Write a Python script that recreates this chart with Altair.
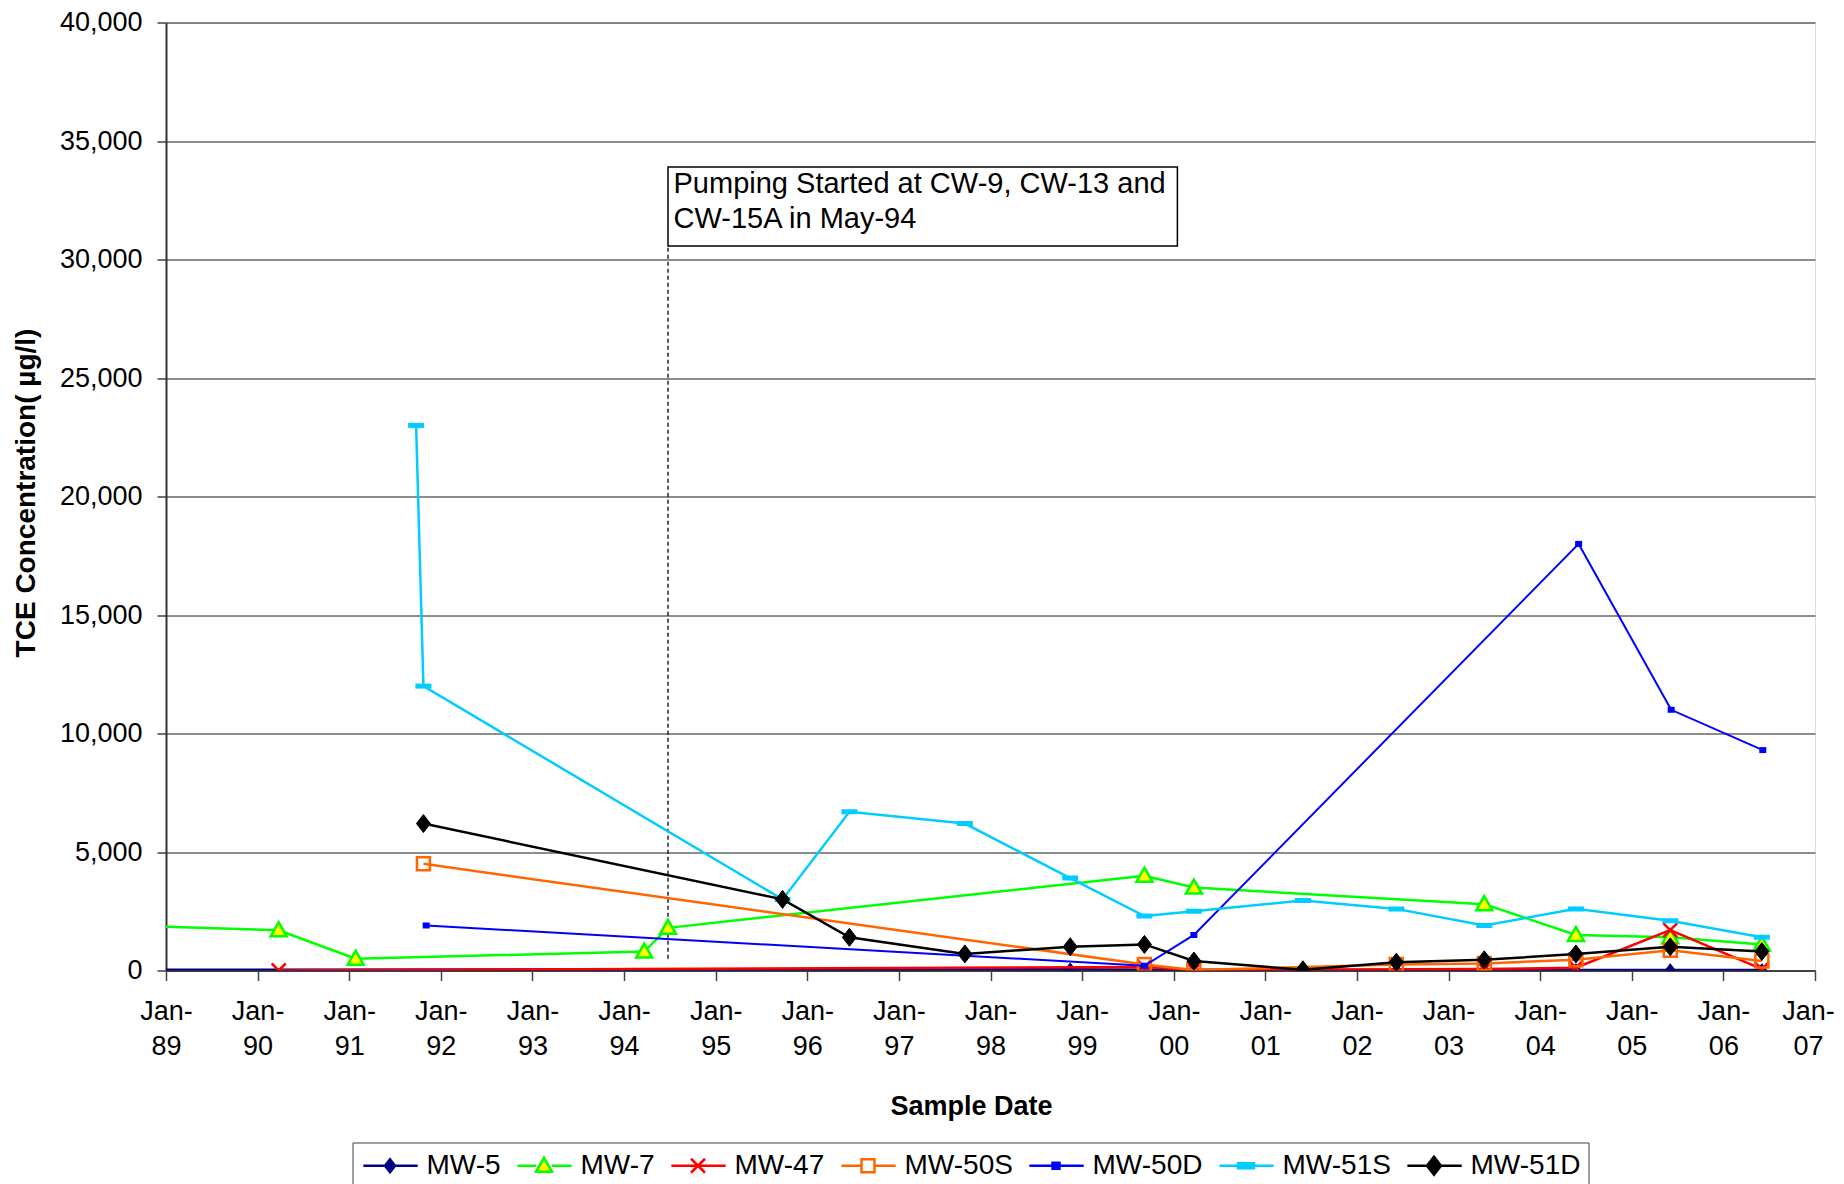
import altair as alt
import pandas as pd

# ---------------- data (decimal years, TCE in ug/l) ----------------
names = ["MW-5", "MW-7", "MW-47", "MW-50S", "MW-50D", "MW-51S", "MW-51D"]

mw5_x = [1988.5, 1998.87, 1999.68, 2001.41, 2002.43, 2003.39, 2004.39, 2005.42, 2006.42]
mw5_y = [20, 40, 20, 10, 10, 10, 10, 10, 10]

mw7_x = [1988.5, 1990.23, 1991.07, 1994.22, 1994.48, 1999.68, 2000.22, 2003.39, 2004.39, 2005.42, 2006.42]
mw7_y = [1900, 1700, 500, 800, 1800, 4000, 3500, 2800, 1500, 1400, 1100]

mw47_x = [1990.23, 1999.68, 2000.22, 2003.39, 2004.39, 2005.42, 2006.42]
mw47_y = [0, 150, 20, 60, 120, 1700, 60]

mw50s_x = [1991.81, 1999.68, 2000.22, 2002.43, 2003.39, 2004.39, 2005.42, 2006.42]
mw50s_y = [4500, 250, 20, 250, 300, 450, 850, 400]

mw50d_x = [1991.84, 1999.68, 2000.22, 2004.42, 2005.43, 2006.43]
mw50d_y = [1900, 200, 1500, 18000, 11000, 9300]

mw51s_x = [1991.73, 1991.81, 1995.73, 1996.46, 1997.72, 1998.87, 1999.68, 2000.22, 2001.41,
           2002.43, 2003.39, 2004.39, 2005.42, 2006.42]
mw51s_y = [23000, 12000, 3000, 6700, 6200, 3900, 2300, 2500, 2950, 2600, 1900, 2600, 2100, 1400]

mw51d_x = [1991.81, 1995.73, 1996.46, 1997.72, 1998.87, 1999.68, 2000.22, 2001.41, 2002.43,
           2003.39, 2004.39, 2005.42, 2006.42]
mw51d_y = [6200, 3000, 1400, 700, 1000, 1100, 400, 30, 350, 450, 700, 1000, 800]

series_x = [mw5_x, mw7_x, mw47_x, mw50s_x, mw50d_x, mw51s_x, mw51d_x]
series_y = [mw5_y, mw7_y, mw47_y, mw50s_y, mw50d_y, mw51s_y, mw51d_y]

year_ticks = list(range(1989, 2008))
value_ticks = list(range(0, 40001, 5000))

note_text = "Pumping Started at CW-9, CW-13 and\nCW-15A in May-94"
pump_year = 1994.48

# ---------------- styles ----------------
FONT = "Liberation Sans"

diamond_small = [([(0, -6.5), (5, 0), (0, 6.5), (-5, 0)], True)]
triangle = [([(0, -8), (8, 6), (-8, 6)], True)]
xmark = [([(-7, -7), (7, 7)], False), ([(-7, 7), (7, -7)], False)]
square = [([(-6.5, -6.5), (6.5, -6.5), (6.5, 6.5), (-6.5, 6.5)], True)]
small_square = [([(-3.5, -3), (3.5, -3), (3.5, 3), (-3.5, 3)], True)]
dash = [([(-8, -2.5), (8, -2.5), (8, 2.5), (-8, 2.5)], True)]
diamond = [([(0, -9), (7, 0), (0, 9), (-7, 0)], True)]

styles = [
    dict(color="#000080", fill="#000080", marker=diamond_small, sw=1, lw=3, hw=0),
    dict(color="#00FF00", fill="#FFFF00", marker=triangle, sw=2.5, lw=2.5, hw=8),
    dict(color="#FF0000", fill="transparent", marker=xmark, sw=2.5, lw=2.5, hw=0),
    dict(color="#FF6600", fill="transparent", marker=square, sw=2.5, lw=2.5, hw=6.5),
    dict(color="#0000FF", fill="#0000FF", marker=small_square, sw=0, lw=2, hw=0),
    dict(color="#00CCFF", fill="#00CCFF", marker=dash, sw=0, lw=2.5, hw=0),
    dict(color="#000000", fill="#000000", marker=diamond, sw=1, lw=2.5, hw=0),
]


def make_path(subpaths, unit, dx=0.0):
    out = []
    for pts, closed in subpaths:
        s = "M" + "L".join(f"{(px + dx) / unit:.3f},{py / unit:.3f}" for px, py in pts)
        if closed:
            s += "Z"
        out.append(s)
    return "".join(out)


# legend symbols: line + marker, nominal symbol box 28px (unit 14px)
LEG_UNIT = 14.0
line_l, line_r, mc = -12.1, 42.2, 14.5
legend_paths, legend_fills = [], []
for st in styles:
    hw = st["hw"]
    if hw > 0:
        line = [([(line_l, 0), (mc - hw, 0)], False), ([(mc + hw, 0), (line_r, 0)], False)]
    else:
        line = [([(line_l, 0), (line_r, 0)], False)]
    legend_paths.append(make_path(line, LEG_UNIT) + make_path(st["marker"], LEG_UNIT, dx=mc))
    legend_fills.append("white" if st["fill"] == "transparent" else st["fill"])

# ---------------- scales / axes ----------------
xscale = alt.Scale(domain=[1989, 2007], nice=False, zero=False)
yscale = alt.Scale(domain=[0, 40000], nice=False, zero=True)

xaxis = alt.Axis(
    values=year_ticks,
    labelExpr="['Jan-', substring(toString(datum.value), 2, 4)]",
    grid=False, tickSize=10, tickColor="#404040", tickWidth=1.5,
    domainColor="#404040", domainWidth=2,
    labelFont=FONT, labelFontSize=27, labelColor="black", labelPadding=18,
    labelLineHeight=35, labelBaseline="top", labelAlign="center",
    labelOverlap=False, labelFlush=False,
    labelOffset={"condition": {"test": "datum.value >= 2007", "value": -7}, "value": 0},
    titleFont=FONT, titleFontSize=27, titleFontWeight="bold", titleColor="black",
    titleX=805, titleY=136, titleBaseline="middle", titleAlign="center",
)
yaxis = alt.Axis(
    values=value_ticks, format=",d",
    grid=True, gridColor="#1a1a1a", gridWidth=1,
    tickSize=9, tickColor="#404040", tickWidth=1.5,
    domainColor="#333333", domainWidth=2,
    labelFont=FONT, labelFontSize=27, labelColor="black", labelPadding=15,
    titleFont=FONT, titleFontSize=28, titleFontWeight="bold", titleColor="black",
    titleX=-140, titleY=470, titleAngle=270, titleBaseline="middle", titleAlign="center",
)

X = alt.X("x:Q", scale=xscale, axis=xaxis, title="Sample Date")
Y = alt.Y("y:Q", scale=yscale, axis=yaxis, title="TCE Concentration( µg/l)")

layers = []

# annotation: dashed line + text box
ann_rule = pd.DataFrame({"x": [pump_year], "y": [500], "y2": [30570]})
layers.append(
    alt.Chart(ann_rule).mark_rule(color="black", strokeDash=[4, 3], strokeWidth=1.3)
    .encode(x=X, y=Y, y2="y2:Q")
)
ann_box = pd.DataFrame({"x": [pump_year], "x2": [2000.04], "y": [30570], "y2": [33900]})
layers.append(
    alt.Chart(ann_box).mark_rect(fill="white", stroke="black", strokeWidth=1.5)
    .encode(x=X, x2="x2:Q", y=Y, y2="y2:Q")
)
ann_txt = pd.DataFrame({"x": [1994.54], "y": [32790], "t": [note_text]})
layers.append(
    alt.Chart(ann_txt).mark_text(align="left", baseline="alphabetic", font=FONT, fontSize=29,
                                 lineHeight=35, lineBreak="\n", color="black")
    .encode(x=X, y=Y, text="t:N")
)

# series
for name, xs, ys, st in zip(names, series_x, series_y, styles):
    df = pd.DataFrame({"x": xs, "y": ys})
    layers.append(
        alt.Chart(df).mark_line(color=st["color"], strokeWidth=st["lw"], clip=True)
        .encode(x=X, y=Y)
    )
    layers.append(
        alt.Chart(df).mark_point(shape=make_path(st["marker"], 10.0), size=400, filled=True,
                                 fill=st["fill"], stroke=st["color"], strokeWidth=st["sw"],
                                 opacity=1, clip=True)
        .encode(x=X, y=Y)
    )

# legend layer (points outside the x domain, clipped; only the legend shows)
leg_df = pd.DataFrame({"series": names, "x": [1980] * len(names), "y": [0] * len(names)})
leg = alt.Legend(
    title=None, orient="none", legendX=186.5, legendY=1120, direction="horizontal",
    fillColor="white", strokeColor="#404040", padding=7.5,
    symbolSize=784, symbolStrokeWidth=2.5, symbolOpacity=1,
    labelFont=FONT, labelFontSize=28, labelColor="black", labelOffset=35.5,
    columnPadding=11, labelLimit=300,
)
layers.append(
    alt.Chart(leg_df).mark_point(filled=True, size=784, strokeWidth=2.5, opacity=1, clip=True)
    .encode(
        x=X, y=Y,
        shape=alt.Shape("series:N", scale=alt.Scale(domain=names, range=legend_paths), legend=leg),
        stroke=alt.Stroke("series:N", scale=alt.Scale(domain=names, range=[s["color"] for s in styles]), legend=leg),
        fill=alt.Fill("series:N", scale=alt.Scale(domain=names, range=legend_fills), legend=leg),
    )
)

chart = (
    alt.layer(*layers)
    .properties(
        width=1649, height=948,
        padding={"left": 158, "top": 14.5, "right": 20, "bottom": 213.5},
        autosize=alt.AutoSizeParams(type="none"),
    )
    .configure_view(fill="#FFFF99", stroke="#808080", strokeWidth=2)
    .configure(background="white")
)

chart.save("out.html", embed_options={"renderer": "svg", "actions": False})
